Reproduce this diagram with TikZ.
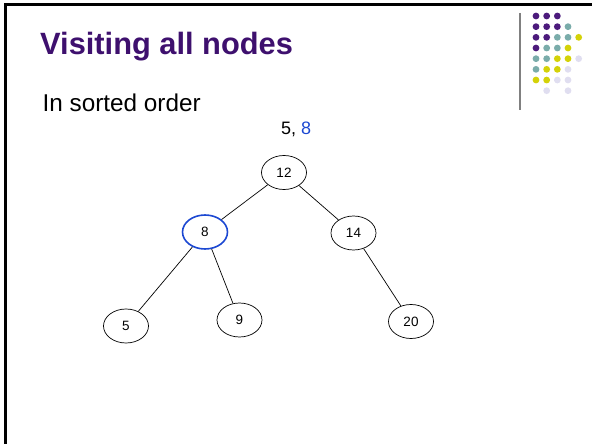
\documentclass[tikz,border=0pt]{standalone}
\usepackage{fontspec}
\setmainfont{Liberation Sans}
\usepackage{xcolor}
\usetikzlibrary{shapes.geometric}

\definecolor{titlepurple}{RGB}{62,16,110}
\definecolor{visitblue}{RGB}{28,72,210}
\definecolor{dotP}{RGB}{76,26,124}
\definecolor{dotT}{RGB}{122,172,170}
\definecolor{dotY}{RGB}{212,210,8}
\definecolor{dotL}{RGB}{224,222,240}

\begin{document}
\begin{tikzpicture}[x=1pt, y=-1pt, font=\fontsize{13.5}{16}\selectfont,
  tnode/.style={draw, ellipse, minimum width=45pt, minimum height=34pt, inner sep=0pt, line width=0.7pt},
  seen/.style={draw=visitblue, line width=1.6pt},
  txt/.style={anchor=base west, inner sep=0pt}]
  \useasboundingbox (0,0) rectangle (592,444);
  % slide frame and corner mark
  \draw[line width=3pt] (5.5,444) -- (5.5,5) -- (592,5);
  \draw[gray, line width=1.4pt] (520,13) -- (520,110);
  \foreach \cl [count=\r from 0] in {{dotP,dotP,dotP},{dotP,dotP,dotP,dotT},
      {dotP,dotP,dotT,dotT,dotY},{dotP,dotT,dotT,dotY},{dotT,dotT,dotY,dotY,dotL},
      {dotT,dotY,dotY,dotL},{dotY,dotY,dotL,dotL},{none,dotL,none,dotL}}
    \foreach \cc [count=\k from 0] in \cl
      \path[fill=\cc] (536+10.67*\k, 16+10.67*\r) circle[radius=3.4];

  \node[txt, text=titlepurple, font=\fontsize{30.8}{36}\selectfont\bfseries] (title) at (40,55) {Visiting all nodes};
  \node[txt, font=\fontsize{24.3}{28}\selectfont] (sorted) at (42.5,111) {In sorted order};
  \node[txt, font=\fontsize{18}{22}\selectfont] (visited) at (281,134) {5, \textcolor{visitblue}{8}};

  % the tree
  \node[tnode] (n12) at (284,172.5) {12};
  \node[tnode, seen] (n8) at (205,232) {8};
  \node[tnode] (n14) at (353.5,233) {14};
  \node[tnode] (n5) at (126,326) {5};
  \node[tnode] (n9) at (239.5,320) {9};
  \node[tnode] (n20) at (411,321.5) {20};
  \draw[line width=0.7pt] (n12) -- (n8);
  \draw[line width=0.7pt] (n12) -- (n14);
  \draw[line width=0.7pt] (n8) -- (n5);
  \draw[line width=0.7pt] (n8) -- (n9);
  \draw[line width=0.7pt] (n14) -- (n20);
\end{tikzpicture}
\end{document}
